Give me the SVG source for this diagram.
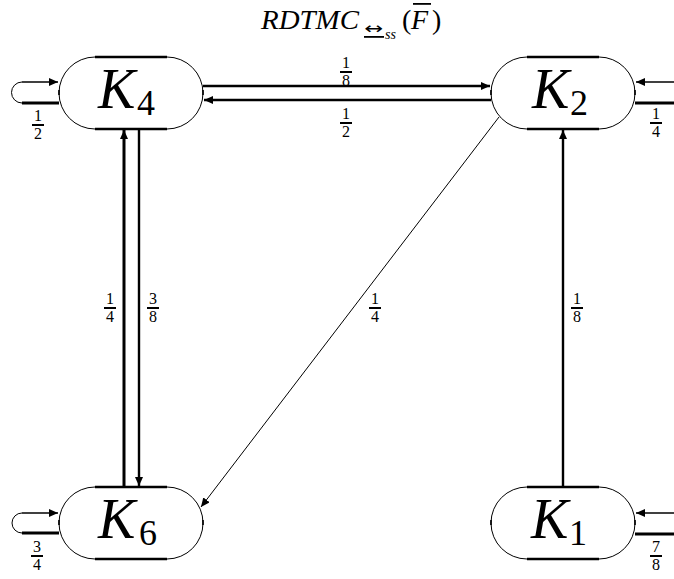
<svg xmlns="http://www.w3.org/2000/svg" width="674" height="579" viewBox="0 0 674 579">
<style>
.bg{fill:#fff}
.curve{fill:none;stroke:#000;stroke-width:1}
.flat{fill:none;stroke:#000;stroke-width:2.6}
.tick{stroke:#000;stroke-width:1.6}
.k{font-family:"Liberation Serif",serif;font-style:italic;font-size:56px;fill:#000}
.ks{font-family:"Liberation Serif",serif;font-size:36px;fill:#000}
.fr{font-family:"Liberation Serif",serif;font-size:16px;fill:#000;text-anchor:middle}
.title{font-family:"Liberation Serif",serif;font-style:italic;font-size:28px;fill:#000}
.e1{fill:none;stroke:#000;stroke-width:1.5}
.e2{fill:none;stroke:#000;stroke-width:2.4}
.e3{fill:none;stroke:#000;stroke-width:3}
.thin{fill:none;stroke:#000;stroke-width:1}
.bar{fill:#000}
</style>
<defs>
<marker id="ah" markerUnits="userSpaceOnUse" markerWidth="10" markerHeight="8" refX="9" refY="4" orient="auto">
<path d="M0,0 L9,4 L0,8 Z" fill="#000"/>
</marker>
</defs>
<rect class="bg" x="0" y="0" width="674" height="579"/>

<g id="title">
<text class="title" x="261" y="29" textLength="98" lengthAdjust="spacingAndGlyphs">RDTMC</text>
<text x="364" y="34" font-family="DejaVu Sans,sans-serif" font-size="16" fill="#000" textLength="19" lengthAdjust="spacingAndGlyphs">↔</text>
<rect x="364" y="36" width="20" height="1.8" fill="#000"/>
<text x="385" y="39" font-family="Liberation Serif,serif" font-style="italic" font-size="14" fill="#000">ss</text>
<text x="402" y="29" font-family="Liberation Serif,serif" font-size="28" fill="#000">(</text>
<text class="title" x="411" y="29">F</text>
<rect x="413" y="3" width="18" height="1.8" fill="#000"/>
<text x="432" y="29" font-family="Liberation Serif,serif" font-size="28" fill="#000">)</text>
</g>

<g id="connectors">
<path class="e1" d="M22,82 H58" marker-end="url(#ah)"/>
<path class="thin" d="M22,82 A10.5,10.5 0 0 0 22,103"/>
<path class="e3" d="M22,103 H59"/>
<path class="e1" d="M674,82 H636" marker-end="url(#ah)"/>
<path class="e3" d="M674,103 H635"/>
<path class="e1" d="M22,513 H58" marker-end="url(#ah)"/>
<path class="thin" d="M22,513 A10,10 0 0 0 22,533"/>
<path class="e3" d="M22,533 H59"/>
<path class="e1" d="M674,513 H636" marker-end="url(#ah)"/>
<path class="e3" d="M674,534 H635"/>
<path class="e2" d="M203,86 H490" marker-end="url(#ah)"/>
<path class="e2" d="M491,100 H204" marker-end="url(#ah)"/>
<path class="e3" d="M124,487 V130" marker-end="url(#ah)"/>
<path class="e2" d="M139,129 V486" marker-end="url(#ah)"/>
<path class="e2" d="M563,487 V130" marker-end="url(#ah)"/>
<path class="thin" d="M499,117 L201,507" marker-end="url(#ah)"/>
</g>

<g id="labels">
<text class="fr" x="38" y="121">1</text><rect class="bar" x="32" y="124" width="12" height="2"/><text class="fr" x="38" y="139">2</text>
<text class="fr" x="656" y="119">1</text><rect class="bar" x="650" y="122" width="12" height="2"/><text class="fr" x="656" y="137">4</text>
<text class="fr" x="37" y="552">3</text><rect class="bar" x="31" y="555" width="12" height="2"/><text class="fr" x="37" y="570">4</text>
<text class="fr" x="656" y="552">7</text><rect class="bar" x="650" y="555" width="12" height="2"/><text class="fr" x="656" y="570">8</text>
<text class="fr" x="346" y="68">1</text><rect class="bar" x="340" y="71" width="12" height="2"/><text class="fr" x="346" y="86">8</text>
<text class="fr" x="346" y="119">1</text><rect class="bar" x="340" y="122" width="12" height="2"/><text class="fr" x="346" y="137">2</text>
<text class="fr" x="110" y="304">1</text><rect class="bar" x="104" y="307" width="12" height="2"/><text class="fr" x="110" y="322">4</text>
<text class="fr" x="153" y="304">3</text><rect class="bar" x="147" y="307" width="12" height="2"/><text class="fr" x="153" y="322">8</text>
<text class="fr" x="375" y="304">1</text><rect class="bar" x="369" y="307" width="12" height="2"/><text class="fr" x="375" y="322">4</text>
<text class="fr" x="577" y="304">1</text><rect class="bar" x="571" y="307" width="12" height="2"/><text class="fr" x="577" y="322">8</text>
</g>

<g id="K4">
<path class="curve" d="M95,57 A36,36 0 0 0 95,129 M167,57 A36,36 0 0 1 167,129"/>
<path class="flat" d="M95,57 H167 M95,129 H167"/>
<path class="tick" d="M59,90 V95 M203,90 V95"/>
<text class="k" x="98" y="108">K</text><text class="ks" x="137" y="115">4</text>
</g>
<g id="K2">
<path class="curve" d="M527,57 A36,36 0 0 0 527,129 M599,57 A36,36 0 0 1 599,129"/>
<path class="flat" d="M527,57 H599 M527,129 H599"/>
<path class="tick" d="M491,90 V95 M635,90 V95"/>
<text class="k" x="532" y="108">K</text><text class="ks" x="570" y="115">2</text>
</g>
<g id="K6">
<path class="curve" d="M95,487 A36,36 0 0 0 95,559 M167,487 A36,36 0 0 1 167,559"/>
<path class="flat" d="M95,487 H167 M95,559 H167"/>
<path class="tick" d="M59,520 V525 M203,520 V525"/>
<text class="k" x="98" y="538">K</text><text class="ks" x="139" y="545">6</text>
</g>
<g id="K1">
<path class="curve" d="M527,487 A36,36 0 0 0 527,559 M599,487 A36,36 0 0 1 599,559"/>
<path class="flat" d="M527,487 H599 M527,559 H599"/>
<path class="tick" d="M491,520 V525 M635,520 V525"/>
<text class="k" x="531" y="538">K</text><text class="ks" x="569" y="545">1</text>
</g>
</svg>
